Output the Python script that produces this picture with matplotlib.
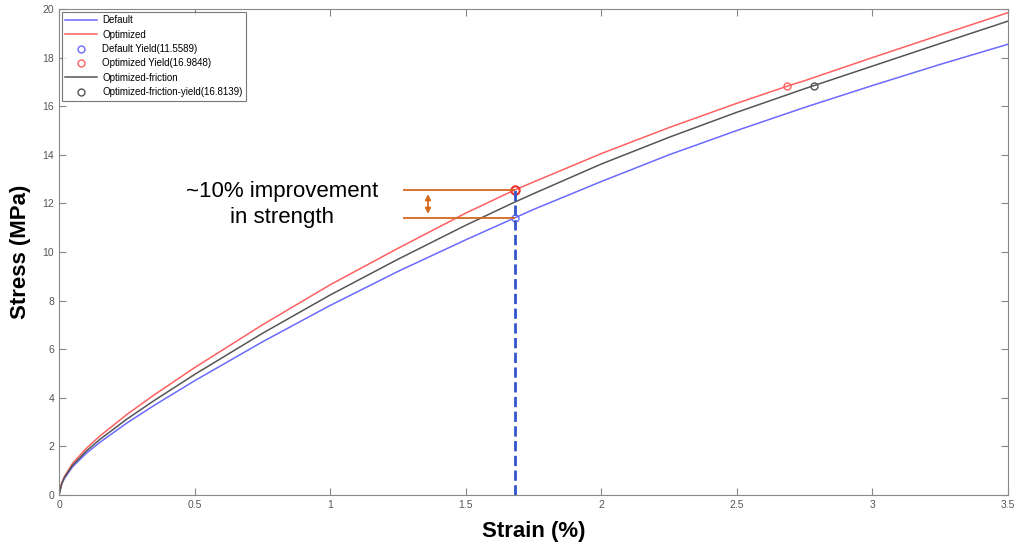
import numpy as np
from matplotlib import pyplot as plt

plt.rcParams['font.family'] = ['Liberation Sans', 'DejaVu Sans']

# Curvas (deformação %, tensão MPa)
strain_default = [0, 0.01, 0.02, 0.05, 0.1, 0.15, 0.25, 0.35, 0.5, 0.75, 1.0, 1.25, 1.5, 1.68,
                  1.75, 2.0, 2.25, 2.5, 2.75, 3.0, 3.25, 3.5]
stress_default = [0, 0.45, 0.68, 1.16, 1.71, 2.16, 2.96, 3.68, 4.7, 6.3, 7.8, 9.2, 10.5, 11.4,
                  11.75, 12.9, 14.0, 15.0, 15.95, 16.85, 17.72, 18.55]

strain_opt = [0, 0.01, 0.02, 0.05, 0.1, 0.15, 0.25, 0.35, 0.5, 0.75, 1.0, 1.25, 1.5, 1.68,
              1.75, 2.0, 2.25, 2.5, 2.685, 2.75, 3.0, 3.25, 3.5]
stress_opt = [0, 0.5, 0.76, 1.3, 1.91, 2.42, 3.31, 4.11, 5.24, 7.0, 8.65, 10.15, 11.6, 12.55,
              12.88, 14.05, 15.12, 16.12, 16.82, 17.05, 18.0, 18.93, 19.85]

strain_fric = [0, 0.01, 0.02, 0.05, 0.1, 0.15, 0.25, 0.35, 0.5, 0.75, 1.0, 1.25, 1.5, 1.68,
               1.75, 2.0, 2.25, 2.5, 2.75, 2.785, 3.0, 3.25, 3.5]
stress_fric = [0, 0.47, 0.72, 1.22, 1.8, 2.28, 3.12, 3.88, 4.96, 6.65, 8.23, 9.7, 11.1, 12.05,
               12.4, 13.62, 14.72, 15.75, 16.72, 16.85, 17.65, 18.58, 19.5]

# Pontos de escoamento marcados
yield_default = (1.682, 11.4)
yield_opt = (2.685, 16.82)
yield_fric = (2.785, 16.85)
yield_cross = (1.682, 12.55)

fig = plt.figure(figsize=(10.19, 5.52), dpi=100)
ax = fig.add_axes([0.0579, 0.1033, 0.9313, 0.8804])

ax.plot(strain_default, stress_default, color='#6a6aff', lw=1.1, label='Default')
ax.plot(strain_opt, stress_opt, color='#ff6060', lw=1.1, label='Optimized')
ax.plot(*yield_default, 'o', mfc='none', mec='#6a6aff', ms=5, label='Default Yield(11.5589)')
ax.plot(*yield_opt, 'o', mfc='none', mec='#ff6060', ms=5, label='Optimized Yield(16.9848)')
ax.plot(strain_fric, stress_fric, color='#555555', lw=1.1, label='Optimized-friction')
ax.plot(*yield_fric, 'o', mfc='none', mec='#555555', ms=5, label='Optimized-friction-yield(16.8139)')

# Anotação de melhoria
ax.plot(*yield_cross, 'o', mfc='none', mec='#ee3030', ms=6, mew=1.5)
ax.plot([yield_cross[0], yield_cross[0]], [0, yield_cross[1]], '--', color='#3355cc', lw=2)
ax.hlines([yield_cross[1], yield_default[1]], 1.269, yield_cross[0], color='#d2691e', lw=1.3)
ax.annotate('', xy=(1.361, yield_cross[1] - 0.05), xytext=(1.361, yield_default[1] + 0.05),
            arrowprops=dict(arrowstyle='<|-|>', color='#d2691e', lw=1.3, mutation_scale=8))
ax.text(0.822, 11.95, '~10% improvement\nin strength', ha='center', va='center',
        fontsize=16, linespacing=1.35)

ax.set_xlim(0, 3.5)
ax.set_ylim(0, 20)
ax.set_xticks([0, 0.5, 1, 1.5, 2, 2.5, 3, 3.5])
ax.set_xticklabels(['0', '0.5', '1', '1.5', '2', '2.5', '3', '3.5'])
ax.set_yticks(range(0, 21, 2))
ax.tick_params(direction='in', top=True, right=True, length=5, color='#888888',
               labelcolor='#555555', labelsize=7.5)
for s in ax.spines.values():
    s.set_color('#888888')

ax.set_xlabel('Strain (%)', fontsize=16, fontweight='bold', labelpad=8)
ax.set_ylabel('Stress (MPa)', fontsize=16, fontweight='bold', labelpad=8)

leg = ax.legend(loc='upper left', fontsize=7, frameon=True, fancybox=False,
                edgecolor='#555555', borderaxespad=0.3, handlelength=3.3,
                labelspacing=0.45, borderpad=0.35, handletextpad=0.5)
leg.get_frame().set_linewidth(0.8)

plt.savefig('out.png', dpi=100)
